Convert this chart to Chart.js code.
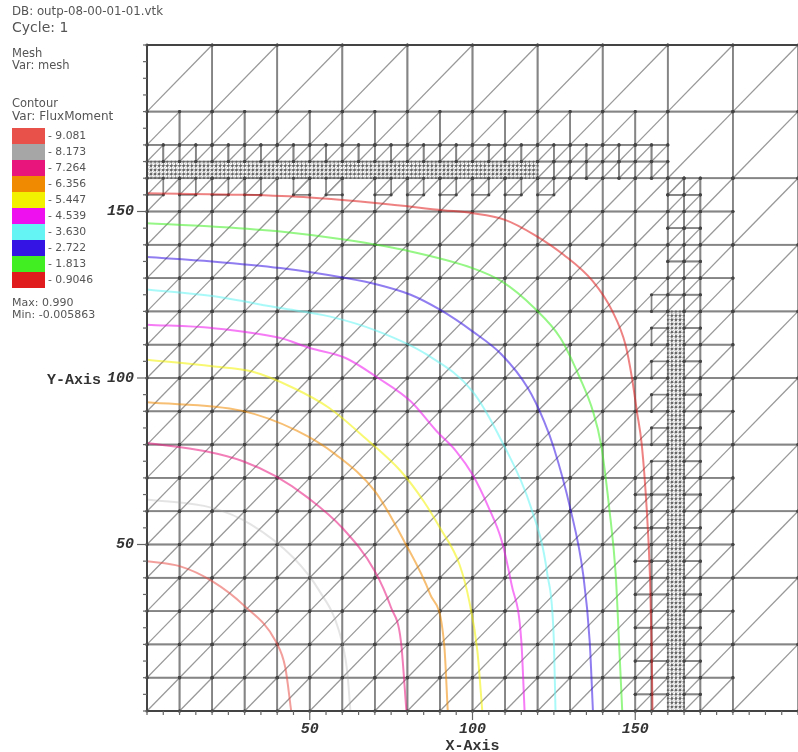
<!DOCTYPE html>
<html>
<head>
<meta charset="utf-8">
<script src="https://cdn.jsdelivr.net/npm/chart.js@4.4.1/dist/chart.umd.min.js"></script>
<style>
  body { margin: 0; background: #fff; }
  #wrap { position: relative; width: 798px; height: 752px; }
  #legend { position: absolute; left: 0; top: 0; font-family: "DejaVu Sans", sans-serif; color: #555; }
  .txt { position: absolute; white-space: nowrap; line-height: 1; }
  .sw { position: absolute; left: 12px; width: 33px; height: 16px; }
</style>
</head>
<body>
<div id="wrap">
  <canvas id="chart" width="798" height="752"></canvas>
  <div id="legend"></div>
</div>
<script>
// Niveles de contorno (de mayor a menor, como en la leyenda)
const levelLabels = ['9.081', '8.173', '7.264', '6.356', '5.447', '4.539', '3.630', '2.722', '1.813', '0.9046'];
const levelColors = ['#e8504a', '#a6a6a6', '#e8157d', '#f08a00', '#f2f200', '#ee10ee', '#64f4f4', '#3414e4', '#40ee22', '#e01c1c'];

// Curvas de contorno [x, y]
const c9081 = [[0,45],[10,43.5],[20,39],[30,31.5],[39.5,21],[42.5,13],[44.3,0]];
const c8173 = [[0,63.5],[20,61],[32,56],[45,46],[53,36],[59,24],[61.5,12],[62.5,0]];
const c7264 = [[0,80.5],[18,78],[29.5,75],[39.5,70.5],[49.5,64],[60,55],[70,42],[75,31],[78,21],[79.7,0]];
const c6356 = [[0,92.7],[29,90.2],[46,84.2],[58,77],[70,66],[79,51],[87,35],[91.3,20],[92.4,0]];
const c5447 = [[0,105.5],[20,103.5],[32,102],[45,97],[56,91],[67,82],[78,72],[85,63],[90,55],[96,44],[99,33],[101.5,18],[103,0]];
const c4539 = [[0,116],[20,115],[41,112],[50,109],[61,106],[71,100],[81,93],[89,84],[95,78],[100,71],[105,61],[109,51],[112,38],[115,21],[116,0]];
const c3630 = [[0,126.6],[20,124.6],[41,121],[56,118.5],[71,114],[86,107],[100,96],[109,81],[118,61],[123,41],[125,21],[125.5,0]];
const c2722 = [[0,136.3],[20,135],[41,133],[61,130],[71,128],[81,125],[90,120.5],[100,114],[109,107],[117,97],[122,87],[125,79],[130,61],[134,41],[136,21],[137,0]];
const c1813 = [[0,146.5],[20,145.5],[41,144],[61,141.5],[81,138],[100,133],[109,129],[119,121],[127,112],[133,100],[137,90],[139.5,80],[142,61],[144,41],[145,21],[146,0]];
const c0905 = [[0,155.5],[30,155],[50,154.2],[71,152.5],[91,150.4],[100,149.5],[110,147.5],[119,143],[128,137],[137,129],[143,120],[147,110],[149,100],[150.5,90],[152,80],[153.5,61],[154.5,41],[155,21],[155.3,0]];
const contourLines = [c9081, c8173, c7264, c6356, c5447, c4539, c3630, c2722, c1813, c0905];

// Malla AMR: celdas raiz de 20 y parches refinados [x0, x1, y0, y1, tamano de celda]
const rootSize = 20;
const meshPatches = [
    [0, 180, 0, 160, 10],
    [0, 160, 160, 180, 10],
    [0, 160, 165, 170, 5],
    [0, 120, 160, 165, 1.25],
    [160, 170, 0, 155, 5],
    [160, 165, 0, 120, 1.25],
    [150, 160, 0, 70, 5]
];
// Cajitas sueltas de 5 [x0, y0, tamano]
const meshBoxes = [
    [0,155,5],[10,155,5],[20,155,5],[30,155,5],[45,155,5],[55,155,5],[70,155,5],
    [80,155,5],[90,155,5],[100,155,5],[110,155,5],[120,155,5],
    [155,120,5],[155,110,5],[155,100,5],[155,90,5],[155,80,5],[155,70,5],[160,155,5]
];

// Ejes
const axisMin = 0, axisMax = 200, minorStep = 5;
const xTickLabels = [50, 100, 150];
const yTickLabels = [50, 100, 150];

// Leyenda en HTML
function buildLegend() {
    const lg = document.getElementById('legend');
    const add = (text, top, size, left) => {
        const d = document.createElement('div');
        d.className = 'txt';
        d.textContent = text;
        d.style.top = top + 'px';
        d.style.left = (left || 12) + 'px';
        d.style.fontSize = size + 'px';
        lg.appendChild(d);
    };
    add('DB: outp-08-00-01-01.vtk', 6, 11.8);
    add('Cycle: 1', 20, 14);
    add('Mesh', 48, 11.5);
    add('Var: mesh', 60, 11.5);
    add('Contour', 98, 11.5);
    add('Var: FluxMoment', 110, 12);
    levelLabels.forEach((lab, i) => {
        const sw = document.createElement('div');
        sw.className = 'sw';
        sw.style.top = (128 + i * 16) + 'px';
        sw.style.background = levelColors[i];
        lg.appendChild(sw);
        add('- ' + lab, 131 + i * 16, 10.8, 48);
    });
    add('Max: 0.990', 297, 11);
    add('Min: -0.005863', 309, 11);
}

function buildCells() {
    const cells = [];
    const needsSplit = (x, y, s) => meshPatches.some(p =>
        p[4] < s && p[0] < x + s && p[1] > x && p[2] < y + s && p[3] > y);
    const visit = (x, y, s) => {
        if (needsSplit(x, y, s)) {
            const h = s / 2;
            visit(x, y, h); visit(x + h, y, h); visit(x, y + h, h); visit(x + h, y + h, h);
        } else {
            cells.push([x, y, s]);
        }
    };
    for (let x = axisMin; x < axisMax; x += rootSize) {
        for (let y = axisMin; y < axisMax; y += rootSize) visit(x, y, rootSize);
    }
    return cells.concat(meshBoxes);
}

const meshPlugin = {
    id: 'mesh',
    beforeDatasetsDraw(chart) {
        const ctx = chart.ctx;
        const px = v => chart.scales.x.getPixelForValue(v);
        const py = v => chart.scales.y.getPixelForValue(v);
        const cells = buildCells();
        ctx.save();
        // diagonales
        cells.forEach(([x, y, s]) => {
            ctx.beginPath();
            ctx.strokeStyle = s < 5 ? '#b4b4b4' : '#999';
            ctx.lineWidth = s < 5 ? 0.7 : 1.3;
            ctx.moveTo(px(x), py(y));
            ctx.lineTo(px(x + s), py(y + s));
            ctx.stroke();
        });
        // bordes
        cells.forEach(([x, y, s]) => {
            ctx.strokeStyle = s < 5 ? '#a8a8a8' : '#858585';
            ctx.lineWidth = s < 5 ? 0.7 : 1.7;
            ctx.strokeRect(px(x), py(y + s), px(x + s) - px(x), py(y) - py(y + s));
        });
        // nodos
        cells.forEach(([x, y, s]) => {
            const r = s < 5 ? 0.9 : 1.6;
            ctx.fillStyle = s < 5 ? '#666' : '#444';
            [[x, y], [x + s, y], [x, y + s], [x + s, y + s]].forEach(([a, b]) => {
                ctx.beginPath();
                ctx.arc(px(a), py(b), r, 0, Math.PI * 2);
                ctx.fill();
            });
        });
        ctx.restore();
    },
    afterDraw(chart) {
        const ctx = chart.ctx;
        const xs = chart.scales.x, ys = chart.scales.y;
        const area = chart.chartArea;
        ctx.save();
        ctx.strokeStyle = '#444';
        ctx.lineWidth = 2;
        ctx.beginPath();
        ctx.moveTo(area.left, area.top);
        ctx.lineTo(area.right, area.top);
        ctx.moveTo(area.left, area.top);
        ctx.lineTo(area.left, area.bottom);
        ctx.lineTo(area.right, area.bottom);
        ctx.stroke();
        // marcas menores y mayores
        ctx.lineWidth = 1.2;
        ctx.strokeStyle = '#666';
        for (let v = axisMin; v <= axisMax; v += minorStep) {
            const len = xTickLabels.includes(v) ? 9 : 4;
            const x = xs.getPixelForValue(v);
            ctx.beginPath(); ctx.moveTo(x, area.bottom); ctx.lineTo(x, area.bottom + len); ctx.stroke();
            const y = ys.getPixelForValue(v);
            const lenY = yTickLabels.includes(v) ? 10 : 4;
            ctx.beginPath(); ctx.moveTo(area.left, y); ctx.lineTo(area.left - lenY, y); ctx.stroke();
        }
        ctx.fillStyle = '#333';
        ctx.font = 'bold italic 15px "Liberation Mono", monospace';
        ctx.textAlign = 'center';
        ctx.textBaseline = 'alphabetic';
        xTickLabels.forEach(v => ctx.fillText(String(v), xs.getPixelForValue(v), 733));
        ctx.textAlign = 'right';
        ctx.textBaseline = 'middle';
        yTickLabels.forEach(v => ctx.fillText(String(v), area.left - 13, ys.getPixelForValue(v)));
        ctx.font = 'bold 15px "Liberation Mono", monospace';
        ctx.textAlign = 'center';
        ctx.textBaseline = 'alphabetic';
        ctx.fillText('X-Axis', (area.left + area.right) / 2, 750);
        ctx.textAlign = 'right';
        ctx.textBaseline = 'middle';
        ctx.fillText('Y-Axis', 101, ys.getPixelForValue(100) + 2);
        ctx.restore();
    }
};

function hexAlpha(hex, a) {
    const n = parseInt(hex.slice(1), 16);
    return `rgba(${(n >> 16) & 255}, ${(n >> 8) & 255}, ${n & 255}, ${a})`;
}

function createChart() {
    const datasets = contourLines.map((pts, i) => ({
        label: levelLabels[i],
        data: pts.map(p => ({ x: p[0], y: p[1] })),
        showLine: true,
        borderColor: hexAlpha(levelColors[i], i === 1 ? 0.3 : 0.55),
        borderWidth: 2,
        pointRadius: 0,
        cubicInterpolationMode: 'monotone',
        fill: false
    }));
    new Chart(document.getElementById('chart'), {
        type: 'scatter',
        data: { datasets: datasets },
        options: {
            responsive: false,
            animation: false,
            layout: { padding: { left: 147, right: 0, top: 45, bottom: 41 } },
            plugins: { legend: { display: false }, tooltip: { enabled: false } },
            scales: {
                x: { type: 'linear', min: axisMin, max: axisMax, display: false },
                y: { type: 'linear', min: axisMin, max: axisMax, display: false }
            }
        },
        plugins: [meshPlugin]
    });
}

buildLegend();
createChart();
</script>
</body>
</html>
